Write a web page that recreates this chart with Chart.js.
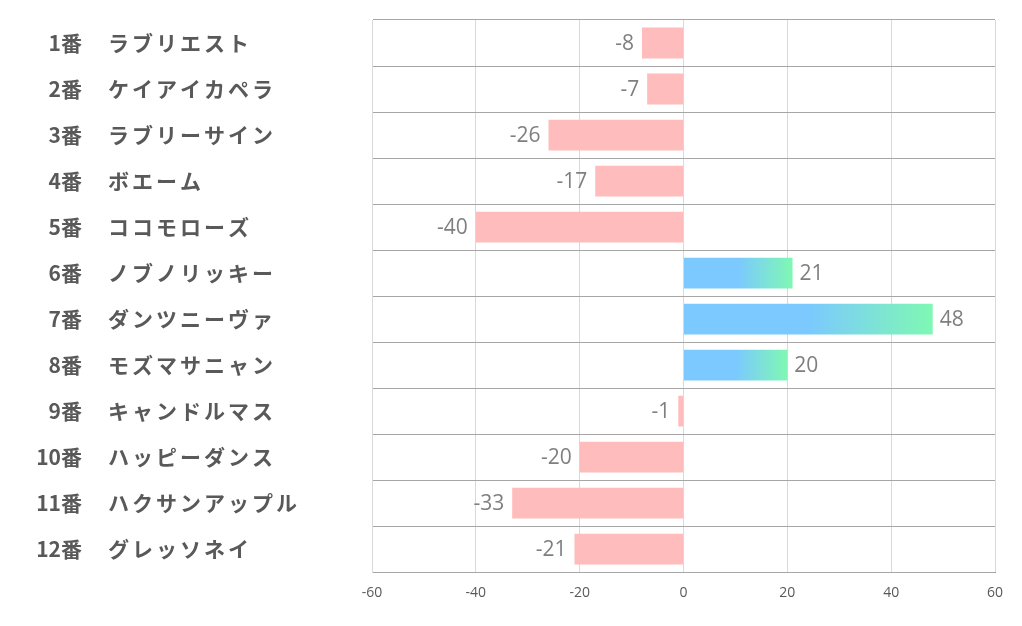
<!DOCTYPE html>
<html>
<head>
<meta charset="utf-8">
<script src="https://cdn.jsdelivr.net/npm/chart.js@4/dist/chart.umd.min.js"></script>
<style>
  html, body { margin: 0; padding: 0; background: #fff; overflow: hidden; }
  #wrap { width: 1022px; height: 626px; position: relative; }
</style>
</head>
<body>
<div id="wrap"><canvas id="chart" width="1022" height="626"></canvas></div>
<script>
// 馬番・馬名・値
const numeros = ['1番', '2番', '3番', '4番', '5番', '6番', '7番', '8番', '9番', '10番', '11番', '12番'];
const nombres = ['ラブリエスト', 'ケイアイカペラ', 'ラブリーサイン', 'ボエーム', 'ココモローズ', 'ノブノリッキー',
                 'ダンツニーヴァ', 'モズマサニャン', 'キャンドルマス', 'ハッピーダンス', 'ハクサンアップル', 'グレッソネイ'];
const valores = [-8, -7, -26, -17, -40, 21, 48, 20, -1, -20, -33, -21];
const xTicks = [-60, -40, -20, 0, 20, 40, 60];

const ROSA = '#ffbcbc';
const AZUL = '#7bc9ff';
const VERDE = '#7ff8b3';

// color de cada barra (degradado para positivos)
function barColor(ctx) {
    const v = ctx.raw;
    if (v < 0) return ROSA;
    const chart = ctx.chart;
    const x = chart.scales.x;
    if (!chart.chartArea || !x) return AZUL;
    const x0 = x.getPixelForValue(0);
    const x1 = x.getPixelForValue(v);
    const g = chart.ctx.createLinearGradient(x0, 0, x1, 0);
    g.addColorStop(0, AZUL);
    g.addColorStop(0.5, AZUL);
    g.addColorStop(1, VERDE);
    return g;
}

// etiquetas de la izquierda y valores junto a cada barra
const etiquetasPlugin = {
    id: 'etiquetas',
    afterDraw(chart) {
        const c = chart.ctx;
        const y = chart.scales.y;
        c.save();
        c.textBaseline = 'middle';
        c.fillStyle = '#595959';
        c.font = 'bold 21px "Noto Sans CJK JP"';
        numeros.forEach((n, i) => {
            const py = y.getPixelForValue(i);
            c.letterSpacing = '0px';
            c.textAlign = 'right';
            c.fillText(n, 82, py);
            c.letterSpacing = '3px';
            c.textAlign = 'left';
            c.fillText(nombres[i], 108, py);
        });
        c.letterSpacing = '0px';
        const meta = chart.getDatasetMeta(0);
        c.font = '21px "Open Sans"';
        c.fillStyle = '#7f7f7f';
        meta.data.forEach((bar, i) => {
            const v = valores[i];
            if (v < 0) {
                c.textAlign = 'right';
                c.fillText(String(v), bar.x - 8, bar.y + 1);
            } else {
                c.textAlign = 'left';
                c.fillText(String(v), bar.x + 7, bar.y + 1);
            }
        });
        c.restore();
    }
};

new Chart(document.getElementById('chart'), {
    type: 'bar',
    data: {
        labels: numeros.map((n, i) => n + ' ' + nombres[i]),
        datasets: [{
            data: valores,
            backgroundColor: barColor,
            borderWidth: 0,
            barPercentage: 0.67,
            categoryPercentage: 1
        }]
    },
    options: {
        indexAxis: 'y',
        responsive: false,
        animation: false,
        devicePixelRatio: 1,
        layout: {
            padding: { left: 372, right: 27, top: 20, bottom: 13 }
        },
        plugins: {
            legend: { display: false },
            tooltip: { enabled: false }
        },
        scales: {
            x: {
                min: -60,
                max: 60,
                afterBuildTicks: (axis) => {
                    axis.ticks = xTicks.map(v => ({ value: v }));
                },
                grid: { color: '#d9d9d9', drawTicks: false },
                border: { display: true, color: '#a6a6a6' },
                ticks: {
                    color: '#595959',
                    font: { family: '"Open Sans"', size: 14 },
                    padding: 12,
                    maxRotation: 0
                }
            },
            y: {
                grid: { color: '#a6a6a6', offset: true, drawTicks: false },
                border: { display: true, color: '#d9d9d9' },
                ticks: { display: false }
            }
        }
    },
    plugins: [etiquetasPlugin]
});
</script>
</body>
</html>
